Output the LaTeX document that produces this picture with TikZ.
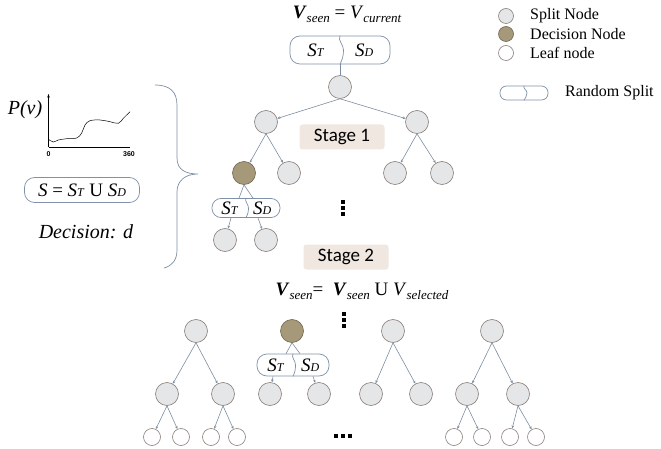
\documentclass[tikz,border=0pt]{standalone}
\usepackage{fontspec}
\setmainfont{Liberation Serif}
\newfontfamily\stagefont{Carlito}
\newfontfamily\axfont{Liberation Sans}
\usetikzlibrary{arrows.meta,calc}
\definecolor{splitfill}{HTML}{E4E6E8}
\definecolor{nodeborder}{HTML}{8A7E78}
\definecolor{decfill}{HTML}{A6997A}
\definecolor{decborder}{HTML}{6F6550}
\definecolor{edgecol}{HTML}{7C8DA2}
\definecolor{boxcol}{HTML}{7F90A8}
\definecolor{stagefill}{HTML}{EFE7E0}
\newcommand{\subT}[1]{{\fontsize{12}{12}\selectfont #1}}
\newcommand{\ST}{\textit{S}\subT{\textit{T}}}
\newcommand{\SD}{\textit{S}\subT{\textit{D}}}
\newcommand{\Vsub}[1]{\raisebox{-0.45ex}{\fontsize{13}{13}\selectfont\itshape #1}}
\newcommand{\VB}{\textbf{\textit{V}}}
\tikzset{
  splitnode/.style={circle, draw=nodeborder, fill=splitfill, minimum size=23pt, inner sep=0pt, line width=0.6pt},
  decnode/.style={circle, draw=decborder, fill=decfill, minimum size=23pt, inner sep=0pt, line width=0.6pt},
  leafnode/.style={circle, draw=nodeborder, fill=white, minimum size=17pt, inner sep=0pt, line width=0.6pt},
  lsplit/.style={splitnode, minimum size=15pt},
  ldec/.style={decnode, minimum size=15pt},
  lleaf/.style={leafnode, minimum size=15pt},
  edgeline/.style={draw=edgecol, line width=0.6pt, -{Stealth[length=3pt,width=2.6pt]}},
  plainline/.style={draw=edgecol, line width=0.6pt},
  sbox/.style={draw=boxcol, line width=0.7pt, inner sep=0pt},
  wave/.style={draw=boxcol, line width=0.7pt},
  stxt/.style={inner sep=0pt, font=\fontsize{19}{19}\selectfont},
  stagelabel/.style={fill=stagefill, rounded corners=3pt, font=\stagefont\fontsize{19}{19}\selectfont, minimum width=85pt, minimum height=25pt, inner sep=0pt},
  legtxt/.style={anchor=west, inner sep=0pt, font=\fontsize{16}{16}\selectfont},
  bigtxt/.style={inner sep=0pt, font=\fontsize{19}{19}\selectfont},
  axis/.style={draw=black, line width=0.5pt},
  dotmark/.style={fill=black},
}
% #1 name, #2 position, #3 width, #4 height, #5 corner radius, #6 wave amplitude
\newcommand{\splitbox}[6]{%
  \node[sbox, rounded corners=#5, minimum width=#3, minimum height=#4] (#1) at (#2) {};
  \draw[wave] (#1.north) to[out=-115,in=90] ($(#1.center)+(#6,0pt)$) to[out=-90,in=65] (#1.south);
}
\newcommand{\splitboxtxt}[6]{%
  \splitbox{#1}{#2}{#3}{#4}{#5}{#6}
  \node[stxt] (#1-l) at ($(#1.center)!0.5!(#1.west)+(1pt,0pt)$) {\ST};
  \node[stxt] (#1-r) at ($(#1.center)!0.5!(#1.east)+(-1pt,0pt)$) {\SD};
}
\begin{document}
\begin{tikzpicture}[x=1pt,y=-1pt]
\useasboundingbox (0,0) rectangle (661,449);

% ---------- legend ----------
\node[lsplit] (lg1) at (506,16) {};
\node[ldec] (lg2) at (506,34) {};
\node[lleaf] (lg3) at (506,53) {};
\node[legtxt] (lt1) at (530,16) {Split Node};
\node[legtxt] (lt2) at (530,34) {Decision Node};
\node[legtxt] (lt3) at (530,53) {Leaf node};
\splitbox{lgs}{524,93}{48pt}{14pt}{6.5pt}{3pt}
\node[legtxt] (lt4) at (565,93) {Random Split};

% ---------- top ----------
\node[bigtxt] (vtop) at (347,14) {\VB\Vsub{seen} = \textit{V}\Vsub{current}};
\splitboxtxt{topbox}{340,50}{100pt}{28pt}{10pt}{3.5pt}
\node[splitnode] (r) at (340,87) {};
\draw[plainline] (topbox.south) -- (r);

% ---------- stage 1 tree ----------
\node[splitnode] (a) at (266,122) {};
\node[splitnode] (b) at (417,122) {};
\node[decnode] (d1) at (244,173) {};
\node[splitnode] (a2) at (289,173) {};
\node[splitnode] (b1) at (395,173) {};
\node[splitnode] (b2) at (442,173) {};
\draw[edgeline] (r.south) -- (a);
\draw[edgeline] (r.south) -- (b);
\draw[edgeline] (a.south) -- (d1);
\draw[edgeline] (a.south) -- (a2);
\draw[edgeline] (b.south) -- (b1);
\draw[edgeline] (b.south) -- (b2);
\node[stagelabel] (stage1) at (342,137) {Stage 1};

\splitboxtxt{sb1}{246,208}{68pt}{19pt}{9pt}{2.5pt}
\draw[plainline] (d1.south) -- ($(sb1.north)+(-7pt,0pt)$);
\draw[plainline] (d1.south) -- ($(sb1.north)+(7pt,0pt)$);
\node[splitnode] (c1) at (225,240) {};
\node[splitnode] (c2) at (266,240) {};
\draw[edgeline] ($(sb1.south)+(-15pt,0pt)$) -- (c1);
\draw[edgeline] ($(sb1.south)+(12pt,0pt)$) -- (c2);

\coordinate (vd1) at (343,208);
\foreach \k in {-6,0,6} \fill[dotmark] ($(vd1)+(-1.7pt,\k pt-1.6pt)$) rectangle ++(3.4pt,3.2pt);

% ---------- left panel ----------
\coordinate (o) at (48.5,147);
\draw[axis] (o) -- (130,147);
\draw[axis, -{Stealth[length=3.5pt,width=2.5pt]}] (o) -- (48.5,94);
\draw[axis] plot[smooth, tension=0.6] coordinates {(48.5,139.3) (53.3,142) (58.3,140) (66.7,138.7) (76.7,138) (81.7,133) (85,125) (90,120.7) (100,120) (110,121.7) (118.3,123.3) (123.3,118.3) (130,111.7)};
\node[font=\axfont\fontsize{7}{7}\selectfont\bfseries, inner sep=0pt] (x0) at (48.5,154) {0};
\node[font=\axfont\fontsize{7}{7}\selectfont\bfseries, inner sep=0pt] (x360) at (129,154) {360};
\node[inner sep=0pt, font=\fontsize{20}{20}\selectfont\itshape] (pv) at (25,110) {P(v)};
\node[sbox, rounded corners=10pt, minimum width=115pt, minimum height=25pt] (sbig) at (82,190) {};
\node[bigtxt] (sbigt) at (sbig) {\textit{S} = \ST{} U \SD};
\node[inner sep=0pt, font=\fontsize{20}{20}\selectfont\itshape] (dec) at (86,232) {Decision: d};
\draw[edgecol, line width=0.7pt] (155,85) .. controls (170,85) and (177,92) .. (177,105) -- (177,158) .. controls (177,170) and (186,174) .. (198,174) .. controls (186,174) and (177,180) .. (177,192) -- (177,250) .. controls (177,260) and (172,266) .. (164,268);

% ---------- stage 2 ----------
\node[stagelabel] (stage2) at (346,257) {Stage 2};
\node[bigtxt] (vsel) at (362,291) {\VB\Vsub{seen}= \ \VB\Vsub{seen} U \textit{V}\Vsub{selected}};
\coordinate (vd2) at (344,320);
\foreach \k in {-6,0,6} \fill[dotmark] ($(vd2)+(-1.7pt,\k pt-1.6pt)$) rectangle ++(3.4pt,3.2pt);
\coordinate (hd) at (343,436);
\foreach \k in {-7,0,7} \fill[dotmark] ($(hd)+(\k pt-1.6pt,-1.6pt)$) rectangle ++(3.2pt,3.4pt);

% tree 1
\node[splitnode] (t1) at (196,331) {};
\node[splitnode] (t1a) at (167,394) {};
\node[splitnode] (t1b) at (223,394) {};
\node[leafnode] (t1a1) at (152,437) {};
\node[leafnode] (t1a2) at (181,437) {};
\node[leafnode] (t1b1) at (211,437) {};
\node[leafnode] (t1b2) at (237,437) {};
\draw[edgeline] (t1.south) -- (t1a);
\draw[edgeline] (t1.south) -- (t1b);
\draw[edgeline] (t1a.south) -- (t1a1);
\draw[edgeline] (t1a.south) -- (t1a2);
\draw[edgeline] (t1b.south) -- (t1b1);
\draw[edgeline] (t1b.south) -- (t1b2);

% tree 2
\node[decnode] (t2) at (292,331) {};
\splitboxtxt{sb2}{293,365}{72pt}{22pt}{10pt}{2.5pt}
\draw[plainline] (t2.south) -- ($(sb2.north)+(-7pt,0pt)$);
\draw[plainline] (t2.south) -- ($(sb2.north)+(7pt,0pt)$);
\node[splitnode] (t2a) at (270,394) {};
\node[splitnode] (t2b) at (319,394) {};
\draw[edgeline] ($(sb2.south)+(-20pt,0pt)$) -- (t2a);
\draw[edgeline] ($(sb2.south)+(20pt,0pt)$) -- (t2b);

% tree 3
\node[splitnode] (t3) at (393,331) {};
\node[splitnode] (t3a) at (371,394) {};
\node[splitnode] (t3b) at (421,394) {};
\draw[edgeline] (t3.south) -- (t3a);
\draw[edgeline] (t3.south) -- (t3b);

% tree 4
\node[splitnode] (t4) at (492,331) {};
\node[splitnode] (t4a) at (467,394) {};
\node[splitnode] (t4b) at (518,394) {};
\node[leafnode] (t4a1) at (454,437) {};
\node[leafnode] (t4a2) at (482,437) {};
\node[leafnode] (t4b1) at (510,437) {};
\node[leafnode] (t4b2) at (536,437) {};
\draw[edgeline] (t4.south) -- (t4a);
\draw[edgeline] (t4.south) -- (t4b);
\draw[edgeline] (t4a.south) -- (t4a1);
\draw[edgeline] (t4a.south) -- (t4a2);
\draw[edgeline] (t4b.south) -- (t4b1);
\draw[edgeline] (t4b.south) -- (t4b2);
\end{tikzpicture}
\end{document}
